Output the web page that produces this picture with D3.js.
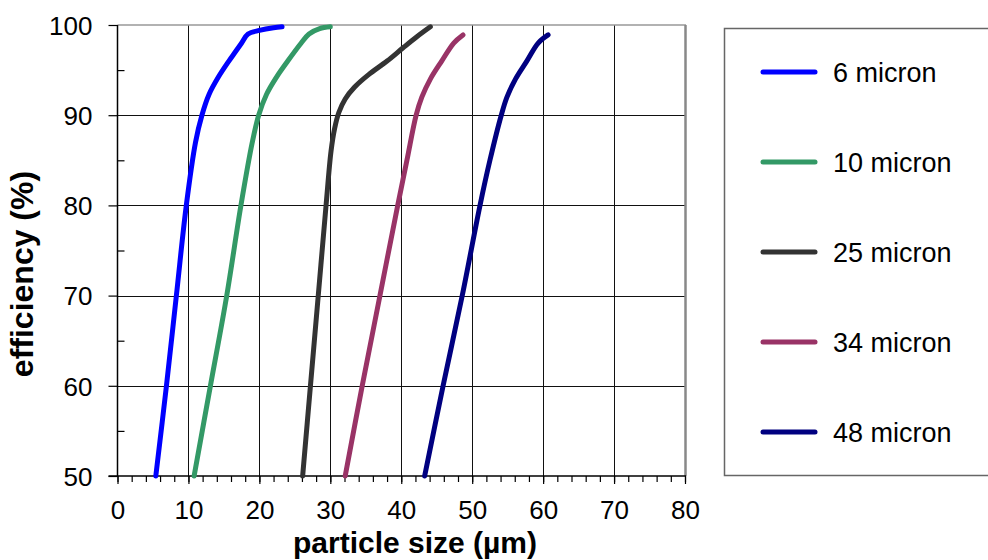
<!DOCTYPE html>
<html>
<head>
<meta charset="utf-8">
<script src="https://cdn.jsdelivr.net/npm/d3@7"></script>
<style>
  body { margin: 0; background: #fff; }
  text { font-family: "Liberation Sans", Arial, sans-serif; fill: #000; }
</style>
</head>
<body>
<div id="chart"></div>
<script>
// efficiency curves vs particle size, one series per cut size
const width = 988, height = 560;

const seriesNames = ["6 micron", "10 micron", "25 micron", "34 micron", "48 micron"];
const seriesColors = ["#0000ff", "#339966", "#333333", "#993366", "#000080"];

// [particle size (µm), efficiency (%)]
const micron6 = [[5.4,50],[6.9,60],[8.3,70],[9.7,80],[11.0,87],[11.9,90],[12.9,92.3],[14.2,94.2],[15.7,96],[16.6,97],[17.5,98],[18.4,99],[20,99.4],[22,99.7],[23.2,99.8]];
const micron10 = [[10.8,50],[13.1,60],[15.4,70],[17.4,80],[19.0,87],[19.9,90],[21.0,92.3],[22.4,94.2],[24.0,96],[25.9,98],[27,99],[28.5,99.6],[30,99.8]];
const micron25 = [[26.1,50],[27.2,60],[28.3,70],[29.4,80],[30.1,86],[30.6,88.5],[31.2,90.3],[32.1,91.8],[33.4,93.1],[35.4,94.5],[38,96],[40.3,97.5],[42.2,98.7],[44.1,99.8]];
const micron34 = [[32.1,50],[34.5,60],[37,70],[39.5,80],[40.8,85],[42.1,90],[42.9,92],[44.1,94],[45.7,96],[47.4,98],[48.7,98.9]];
const micron48 = [[43.3,50],[45.9,60],[48.6,70],[51.1,80],[52.5,85],[54.1,90],[54.9,92],[56.1,94],[57.7,96],[59.3,98],[60.7,98.9]];
const allSeries = [micron6, micron10, micron25, micron34, micron48];

const xTicks = [0, 10, 20, 30, 40, 50, 60, 70, 80];
const yTicks = [50, 60, 70, 80, 90, 100];

const plot = {left: 117.5, right: 685, top: 25, bottom: 476};

const svg = d3.select("#chart").append("svg").attr("width", width).attr("height", height);

const x = d3.scaleLinear().domain([0, 80]).range([plot.left, plot.right]);
const y = d3.scaleLinear().domain([50, 100]).range([plot.bottom, plot.top]);

// grid
const grid = svg.append("g");
grid.selectAll(".vg").data(xTicks.filter(d => d > 0 && d < 80)).join("line")
  .attr("x1", d => Math.round(x(d)) + 0.5).attr("x2", d => Math.round(x(d)) + 0.5)
  .attr("y1", plot.top).attr("y2", plot.bottom)
  .attr("stroke", "#111").attr("stroke-width", 1);
grid.selectAll(".hg").data(yTicks.filter(d => d > 50 && d < 100)).join("line")
  .attr("y1", d => Math.round(y(d)) + 0.5).attr("y2", d => Math.round(y(d)) + 0.5)
  .attr("x1", plot.left).attr("x2", plot.right)
  .attr("stroke", "#111").attr("stroke-width", 1);

// plot frame: top and right in gray
svg.append("line").attr("x1", plot.left).attr("x2", plot.right + 1)
  .attr("y1", plot.top).attr("y2", plot.top).attr("stroke", "#999").attr("stroke-width", 1.5);
svg.append("line").attr("x1", plot.right + 0.5).attr("x2", plot.right + 0.5)
  .attr("y1", plot.top).attr("y2", plot.bottom).attr("stroke", "#888").attr("stroke-width", 2.5);

// x axis
const xAxis = svg.append("g").attr("transform", `translate(0,${plot.bottom})`);
xAxis.call(d3.axisBottom(x).tickValues(d3.range(0, 81, 2)).tickSize(6).tickFormat(""))
  .call(g => g.select(".domain").remove());
xAxis.append("g").call(d3.axisBottom(x).tickValues(xTicks).tickSize(8).tickPadding(14))
  .call(g => g.select(".domain").remove())
  .call(g => g.selectAll("text").attr("font-size", 26).attr("dy", 0).attr("y", 43)
    .style("font-family", "'Liberation Sans', Arial, sans-serif").attr("fill", "#000"));
xAxis.selectAll(".tick line").attr("stroke", "#000").attr("stroke-width", 1.2);
xAxis.append("line").attr("x1", plot.left - 9).attr("x2", plot.right + 1)
  .attr("stroke", "#000").attr("stroke-width", 1.5);

// y axis: major ticks outside, minor ticks inside
const yAxis = svg.append("g").attr("transform", `translate(${plot.left},0)`);
yAxis.call(d3.axisLeft(y).tickValues(yTicks).tickSize(9).tickPadding(16))
  .call(g => g.select(".domain").remove())
  .call(g => g.selectAll("text").attr("font-size", 26).attr("dy", "0.36em")
    .style("font-family", "'Liberation Sans', Arial, sans-serif").attr("fill", "#000"));
yAxis.append("g").call(d3.axisRight(y).tickValues([55, 65, 75, 85, 95]).tickSize(7).tickFormat(""))
  .call(g => g.select(".domain").remove());
yAxis.selectAll(".tick line").attr("stroke", "#000").attr("stroke-width", 1.2);
yAxis.append("line").attr("x1", 0).attr("x2", 0).attr("y1", plot.top).attr("y2", plot.bottom)
  .attr("stroke", "#000").attr("stroke-width", 1.5);

// series
const line = d3.line().x(d => x(d[0])).y(d => y(d[1])).curve(d3.curveCatmullRom.alpha(0.5));
svg.append("g").selectAll("path").data(allSeries).join("path")
  .attr("d", line)
  .attr("fill", "none")
  .attr("stroke", (d, i) => seriesColors[i])
  .attr("stroke-width", 5)
  .attr("stroke-linecap", "round")
  .attr("stroke-linejoin", "round");

// axis titles
svg.append("text").attr("x", 415).attr("y", 553).attr("text-anchor", "middle")
  .attr("font-size", 30).attr("font-weight", "bold").text("particle size (µm)");
svg.append("text").attr("transform", "translate(33,274) rotate(-90)").attr("text-anchor", "middle")
  .attr("font-size", 32).attr("font-weight", "bold").text("efficiency (%)");

// legend
const legend = svg.append("g");
legend.append("rect").attr("x", 724.5).attr("y", 28.5).attr("width", 300).attr("height", 447)
  .attr("fill", "#fff").attr("stroke", "#666").attr("stroke-width", 1.5);
const ly = d3.scalePoint().domain(seriesNames).range([72, 432]);
const item = legend.selectAll(".item").data(seriesNames).join("g")
  .attr("transform", d => `translate(0,${ly(d)})`);
item.append("line").attr("x1", 763).attr("x2", 815)
  .attr("stroke", (d, i) => seriesColors[i]).attr("stroke-width", 5).attr("stroke-linecap", "round");
item.append("text").attr("x", 833).attr("y", 10).attr("font-size", 27).text(d => d);
</script>
</body>
</html>
